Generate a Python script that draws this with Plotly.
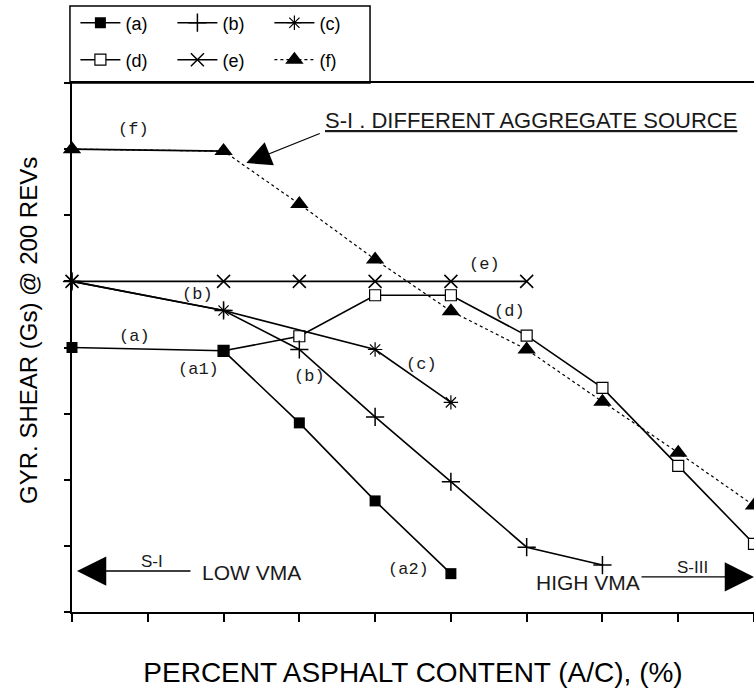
import plotly.graph_objects as go

# ---------------- data ----------------
a_x = [0, 2, 3, 4, 5]
a_y = [4.00, 3.95, 2.86, 1.68, 0.58]

b_x = [0, 2, 3, 4, 5, 6, 7]
b_y = [5.00, 4.56, 3.97, 2.95, 1.97, 0.98, 0.71]

c_x = [0, 2, 4, 5]
c_y = [5.00, 4.56, 3.97, 3.17]

d_x = [2, 3, 4, 5, 6, 7, 8, 9]
d_y = [3.95, 4.17, 4.79, 4.79, 4.18, 3.39, 2.21, 1.03]

e_x = [0, 2, 3, 4, 5, 6]
e_y = [5.00, 5.00, 5.00, 5.00, 5.00, 5.00]

f_x = [0, 2, 3, 4, 5, 6, 7, 8, 9]
f_y = [7.00, 6.97, 6.17, 5.33, 4.55, 3.97, 3.18, 2.41, 1.61]

names = ["(a)", "(b)", "(c)", "(d)", "(e)", "(f)"]

BLACK = "black"
LW = 1.6

fig = go.Figure()

# (d) drawn first so the (a) square sits on top at the shared point
fig.add_trace(go.Scatter(
    x=d_x, y=d_y, name=names[3], mode="lines+markers", legend="legend2",
    line=dict(color=BLACK, width=LW),
    marker=dict(symbol="square", size=11, color="white",
                line=dict(color=BLACK, width=1.2)),
    cliponaxis=False))
fig.add_trace(go.Scatter(
    x=a_x, y=a_y, name=names[0], mode="lines+markers", legend="legend",
    line=dict(color=BLACK, width=LW),
    marker=dict(symbol="square", size=11, color=BLACK),
    cliponaxis=False))
fig.add_trace(go.Scatter(
    x=b_x, y=b_y, name=names[1], mode="lines+markers", legend="legend",
    line=dict(color=BLACK, width=LW),
    marker=dict(symbol="cross-thin", size=13, color=BLACK,
                line=dict(color=BLACK, width=1.5)),
    cliponaxis=False))
fig.add_trace(go.Scatter(
    x=c_x, y=c_y, name=names[2], mode="lines+markers", legend="legend",
    line=dict(color=BLACK, width=LW),
    marker=dict(symbol="asterisk", size=12, color=BLACK,
                line=dict(color=BLACK, width=1.2)),
    cliponaxis=False))
fig.add_trace(go.Scatter(
    x=e_x, y=e_y, name=names[4], mode="lines+markers", legend="legend2",
    line=dict(color=BLACK, width=LW),
    marker=dict(symbol="x-thin", size=13, color=BLACK,
                line=dict(color=BLACK, width=1.5)),
    cliponaxis=False))
# solid first segment of (f)
fig.add_trace(go.Scatter(
    x=f_x[:2], y=f_y[:2], mode="lines", showlegend=False,
    line=dict(color=BLACK, width=LW), hoverinfo="skip"))
fig.add_trace(go.Scatter(
    x=f_x, y=f_y, name=names[5], mode="lines+markers", legend="legend2",
    line=dict(color=BLACK, width=1.2, dash="dot"),
    marker=dict(symbol="triangle-up", size=16, color=BLACK),
    cliponaxis=False))

MONO = "Liberation Mono, DejaVu Sans Mono, monospace"
SANS = "Liberation Sans, Arial, Helvetica, sans-serif"

annotations = []


def lab(text, x, y, size=17, font=MONO):
    annotations.append(dict(x=x, y=y, xref="x", yref="y", text=text,
                            showarrow=False, font=dict(family=font, size=size,
                                                       color="#1a1a1a"),
                            xanchor="center", yanchor="middle"))


lab("(f)", 0.81, 7.29)
lab("(e)", 5.44, 5.25)
lab("(b)", 1.66, 4.80)
lab("(a)", 0.83, 4.16)
lab("(a1)", 1.67, 3.66)
lab("(b)", 3.13, 3.56)
lab("(c)", 4.61, 3.74)
lab("(d)", 5.77, 4.54)
lab("(a2)", 4.44, 0.64)

# sans labels
lab("<u>S-I . DIFFERENT AGGREGATE SOURCE</u>", 6.06, 7.44, size=22, font=SANS)
lab("S-I", 1.05, 0.76, size=17, font=SANS)
lab("LOW VMA", 2.37, 0.59, size=21, font=SANS)
lab("HIGH VMA", 6.81, 0.45, size=21, font=SANS)
lab("S-III", 8.19, 0.68, size=17, font=SANS)

# y-axis title placed like the reference (slightly above plot centre)
annotations.append(dict(x=28, y=330, xref="x domain", yref="y domain",
                        text="", showarrow=False))
annotations.pop()
annotations.append(dict(x=-0.064, y=0.532, xref="paper", yref="paper",
                        text="GYR. SHEAR (Gs) @ 200 REVs", textangle=-90,
                        showarrow=False, xanchor="center", yanchor="middle",
                        font=dict(family=SANS, size=24, color=BLACK)))

# arrows
annotations.append(dict(x=2.30, y=6.79, xref="x", yref="y", text="",
                        showarrow=True, ax=75, ay=-30, arrowhead=2,
                        arrowsize=4.5, arrowwidth=1.1, arrowcolor=BLACK,
                        standoff=0))
annotations.append(dict(x=0.066, y=0.62, xref="x", yref="y", text="",
                        showarrow=True, ax=115, ay=0, arrowhead=2,
                        arrowsize=4.5, arrowwidth=1.3, arrowcolor=BLACK,
                        standoff=0))
annotations.append(dict(x=9.0, y=0.53, xref="x", yref="y", text="",
                        showarrow=True, ax=-114, ay=0, arrowhead=2,
                        arrowsize=4.5, arrowwidth=1.3, arrowcolor=BLACK,
                        standoff=0))

# legend frame
shapes = [dict(type="rect", xref="paper", yref="paper",
               x0=-0.003, x1=0.437, y0=1.0, y1=1.1456,
               line=dict(color=BLACK, width=1.5), fillcolor="rgba(0,0,0,0)")]

legend_common = dict(xref="container", yref="container", xanchor="left",
                     yanchor="middle", orientation="h",
                     bgcolor="rgba(0,0,0,0)", borderwidth=0,
                     font=dict(family=SANS, size=18, color=BLACK),
                     itemwidth=40, entrywidth=42)

fig.update_layout(
    width=754, height=691,
    margin=dict(l=72, r=0, t=83, b=79),
    paper_bgcolor="white", plot_bgcolor="white",
    font=dict(family=SANS, color=BLACK),
    showlegend=True,
    legend=dict(x=0.1, y=1 - 23 / 691, **legend_common),
    legend2=dict(x=0.1, y=1 - 60 / 691, **legend_common),
    xaxis=dict(range=[0, 9], tick0=0, dtick=1, ticks="outside",
               ticklen=8, tickwidth=1.5, tickcolor=BLACK,
               showticklabels=False, showline=True, linecolor=BLACK,
               linewidth=1.5, mirror=True, showgrid=False, zeroline=False,
               title=dict(text="PERCENT ASPHALT CONTENT (A/C), (%)",
                          font=dict(family=SANS, size=28), standoff=42)),
    yaxis=dict(range=[0, 8], tick0=0, dtick=1, ticks="outside",
               ticklen=6, tickwidth=1.5, tickcolor=BLACK,
               showticklabels=False, showline=True, linecolor=BLACK,
               linewidth=1.5, showgrid=False, zeroline=False),
    annotations=annotations,
    shapes=shapes,
)

fig.write_html("out.html")
